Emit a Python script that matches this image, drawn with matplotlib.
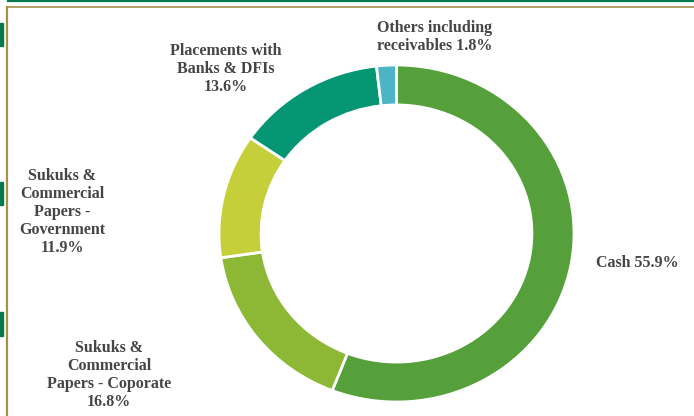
import numpy as np
import matplotlib.pyplot as plt
from matplotlib.lines import Line2D
from matplotlib.patches import Rectangle

# asset allocation shares (%), clockwise from 12 o'clock
categories = ['Cash', 'Sukuks & Commercial Papers - Coporate',
              'Sukuks & Commercial Papers - Government',
              'Placements with Banks & DFIs', 'Others including receivables']
shares = [55.9, 16.8, 11.9, 13.6, 1.8]
label_text = ['Cash 55.9%',
              'Sukuks &\nCommercial\nPapers - Coporate\n16.8%',
              'Sukuks &\nCommercial\nPapers -\nGovernment\n11.9%',
              'Placements with\nBanks & DFIs\n13.6%',
              'Others including\nreceivables 1.8%']
colors = ['#55a03a', '#8cb835', '#c4cf3a', '#059674', '#4bb5c6']

# label centres in pixels from the top-left corner
label_px = [(637, 263), (109, 375), (62, 212), (226, 69), (435, 37)]

W, H = 694, 416
fig = plt.figure(figsize=(W / 100, H / 100), dpi=100)

# ring: slightly wider than tall, so aspect is left on auto
ax = fig.add_axes([219 / W, (H - 402) / H, 355 / W, 337 / H])
ax.pie(shares, colors=colors, startangle=90, counterclock=False,
       wedgeprops=dict(width=0.237, edgecolor='white', linewidth=2))
ax.set_aspect('auto')
ax.set_xlim(-1, 1)
ax.set_ylim(-1, 1)
ax.axis('off')

for txt, (px, py) in zip(label_text, label_px):
    fig.text(px / W, 1 - py / H, txt, ha='center', va='center',
             fontsize=11.5, fontweight='bold', color='#454545',
             family='Liberation Serif', linespacing=1.15)

# page frame: dark green rule on top, olive border, green tabs on the left
fig.add_artist(Line2D([8 / W, 1], [1 - 1 / H, 1 - 1 / H], color='#057a4c', lw=1.6))
fig.add_artist(Line2D([6.5 / W, 1], [1 - 6.5 / H, 1 - 6.5 / H], color='#a8904a', lw=1.2))
fig.add_artist(Line2D([7 / W, 7 / W], [0, 1 - 6.5 / H], color='#a8904a', lw=1.6))
for y0, y1 in [(23, 46), (182, 205), (312, 336)]:
    fig.add_artist(Rectangle((0, 1 - y1 / H), 3.3 / W, (y1 - y0) / H,
                             color='#057a4c', transform=fig.transFigure))

fig.savefig('out.png', dpi=100)
